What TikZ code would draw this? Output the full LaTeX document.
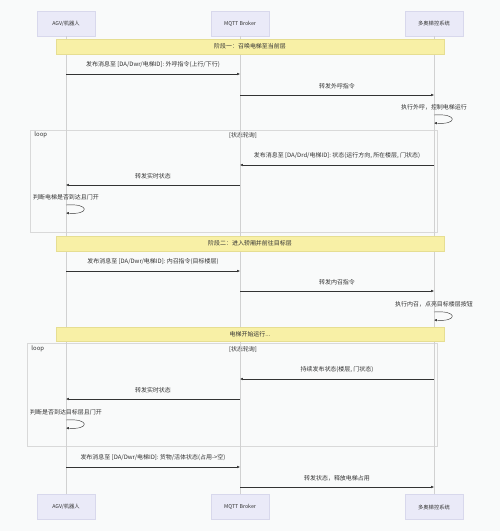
\documentclass[tikz,border=0pt]{standalone}
\usepackage{fontspec}
\setmainfont{Noto Sans CJK SC}
\usetikzlibrary{arrows.meta,calc}
\definecolor{bgcol}{HTML}{F9FAFA}
\definecolor{actorfill}{HTML}{EAEAF8}
\definecolor{actorline}{HTML}{D8D8EC}
\definecolor{notefill}{HTML}{F8F0A6}
\definecolor{noteline}{HTML}{E6DE92}
\definecolor{txtcol}{HTML}{333333}
\tikzset{
  actor/.style={draw=actorline,fill=actorfill,minimum width=2.9cm,minimum height=1.25cm,font=\fontsize{7.5}{8}\selectfont,text=txtcol},
  lifeline/.style={draw=black!18,line width=0.7pt},
  msg/.style={draw=txtcol,line width=0.6pt,-{Latex[length=4pt,width=3.5pt]}},
  msglabel/.style={font=\fontsize{8.5}{9}\selectfont,text=txtcol},
  notebar/.style={draw=noteline,fill=notefill},
  frame/.style={draw=black!15,line width=0.6pt},
}
% message between two lifelines: from, to, arrow y, label
\newcommand{\msgline}[4]{%
  \draw[msg] (#1 |- 0,#3) -- (#2 |- 0,#3)
    node[msglabel,midway,yshift=0.45cm] {#4};}
% message to itself
\newcommand{\selfmsg}[3]{%
  \node[msglabel] at ($(#1 |- 0,#2)+(0,-8)$) {#3};
  \draw[msg] (#1 |- 0,#2) .. controls +(24,-2) and +(24,2) .. ($(#1 |- 0,#2)+(0,8)$);}
\begin{document}
\begin{tikzpicture}[x=0.05cm,y=-0.05cm]
  \useasboundingbox[fill=bgcol] (0,0) rectangle (500,531);

  % actors
  \node[actor] (agv)  at (66,23.5)  {AGV/机器人};
  \node[actor] (mqtt) at (240,23.5) {MQTT Broker};
  \node[actor] (ctrl) at (434,23.5) {多奥梯控系统};
  \node[actor] (agvb)  at (66,507)  {AGV/机器人};
  \node[actor] (mqttb) at (240,507) {MQTT Broker};
  \node[actor] (ctrlb) at (434,507) {多奥梯控系统};

  % loop frames
  \draw[frame] (30,130) rectangle (437,232);
  \node[msglabel,anchor=west] (loopa) at (32,135) {loop};
  \node[msglabel] (conda) at (243,135) {[状态轮询]};
  \draw[frame] (27,343) rectangle (437,446);
  \node[msglabel,anchor=west] (loopb) at (29,349) {loop};
  \node[msglabel] (condb) at (243,349) {[状态轮询]};

  % lifelines
  \draw[lifeline] (agv) -- (agvb);
  \draw[lifeline] (mqtt) -- (mqttb);
  \draw[lifeline] (ctrl) -- (ctrlb);

  % phase bars
  \node[notebar,msglabel,minimum width=19.4cm,minimum height=0.75cm] (phasea) at (250,46.5) {阶段一：召唤电梯至当前层};
  \node[notebar,msglabel,minimum width=19.4cm,minimum height=0.75cm] (phaseb) at (250,243.5) {阶段二：进入轿厢并前往目标层};
  \node[notebar,msglabel,minimum width=19.4cm,minimum height=0.7cm] (phasec) at (250,334) {电梯开始运行...};

  % phase one
  \msgline{agv}{mqtt}{74}{发布消息至 [DA/Dwr/电梯ID]: 外呼指令(上行/下行)}
  \msgline{mqtt}{ctrl}{95}{转发外呼指令}
  \selfmsg{ctrl}{115}{执行外呼，控制电梯运行}
  \msgline{ctrl}{mqtt}{165}{发布消息至 [DA/Drd/电梯ID]: 状态(运行方向, 所在楼层, 门状态)}
  \msgline{mqtt}{agv}{185}{转发实时状态}
  \selfmsg{agv}{205}{判断电梯是否到达且门开}

  % phase two
  \msgline{agv}{mqtt}{271}{发布消息至 [DA/Dwr/电梯ID]: 内召指令(目标楼层)}
  \msgline{mqtt}{ctrl}{291}{转发内召指令}
  \selfmsg{ctrl}{312}{执行内召，点亮目标楼层按钮}
  \msgline{ctrl}{mqtt}{379}{持续发布状态(楼层, 门状态)}
  \msgline{mqtt}{agv}{399}{转发实时状态}
  \selfmsg{agv}{420}{判断是否到达目标层且门开}
  \msgline{agv}{mqtt}{467}{发布消息至 [DA/Dwr/电梯ID]: 货物/活体状态(占用->空)}
  \msgline{mqtt}{ctrl}{487}{转发状态，释放电梯占用}
\end{tikzpicture}
\end{document}
